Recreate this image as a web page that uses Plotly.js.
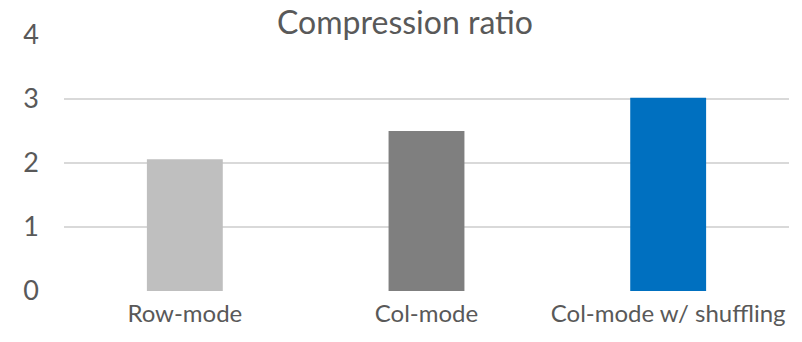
<!DOCTYPE html>
<html>
<head>
<meta charset="utf-8">
<script src="https://cdn.plot.ly/plotly-3.0.1.min.js"></script>
<style>html,body{margin:0;padding:0;background:#fff;}#chart{width:802px;height:342px;}</style>
</head>
<body>
<div id="chart"></div>
<script>
const categories = ["Row-mode", "Col-mode", "Col-mode w/ shuffling"];
const compressionRatio = [2.06, 2.5, 3.02];
const yTickValues = [0, 1, 2, 3, 4];

const barColors = ["#BFBFBF", "#7F7F7F", "#0070C0"];
const FONT = "Lato, 'Open Sans', sans-serif";

Plotly.newPlot("chart", [{
  type: "bar",
  x: categories,
  y: compressionRatio,
  marker: {color: barColors},
  hoverinfo: "none"
}], {
  width: 802,
  height: 342,
  margin: {l: 64, r: 13, t: 35, b: 51, pad: 0},
  paper_bgcolor: "#fff",
  plot_bgcolor: "#fff",
  bargap: 0.686,
  font: {family: FONT, color: "#595959"},
  title: {
    text: "Compression ratio",
    font: {family: FONT, size: 32, color: "#595959"},
    x: 405 / 802, xanchor: "center", xref: "container",
    y: 1 - 23 / 342, yanchor: "middle", yref: "container"
  },
  xaxis: {
    type: "category",
    showgrid: false,
    zeroline: false,
    showline: false,
    ticks: "",
    ticklabelstandoff: 6,
    tickfont: {family: FONT, size: 24, color: "#595959"},
    fixedrange: true
  },
  yaxis: {
    range: [0, 4],
    tickvals: yTickValues,
    ticktext: yTickValues.map(String),
    showgrid: true,
    gridcolor: "#D9D9D9",
    gridwidth: 2,
    zeroline: false,
    showline: false,
    ticks: "",
    ticklabelstandoff: 24,
    tickfont: {family: FONT, size: 27, color: "#595959"},
    fixedrange: true
  },
  showlegend: false
}, {staticPlot: true, displayModeBar: false});
</script>
</body>
</html>
